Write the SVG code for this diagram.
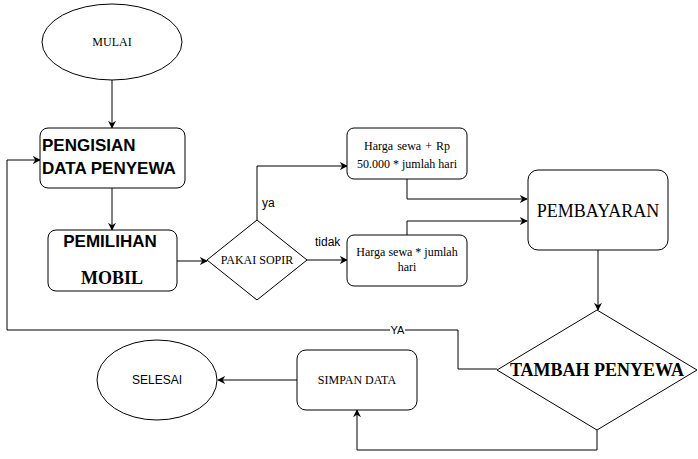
<svg xmlns="http://www.w3.org/2000/svg" width="698" height="459" viewBox="0 0 698 459">
<defs>
<marker id="arr" viewBox="0 0 10 10" refX="9" refY="5" markerWidth="8" markerHeight="8" markerUnits="userSpaceOnUse" orient="auto">
<path d="M0,0 L10,5 L0,10 L3,5 Z" fill="#000"/>
</marker>
<style>
.shape{fill:#fff;stroke:#000;stroke-width:1}
.edge{fill:none;stroke:#000;stroke-width:1}
.serif{font-family:"Liberation Serif",serif;font-size:12px;fill:#000}
.sans{font-family:"Liberation Sans",Arial,sans-serif;font-size:12px;fill:#000}
.bsans{font-family:"Liberation Sans",Arial,sans-serif;font-size:17px;font-weight:bold;fill:#000}
.bserif{font-family:"Liberation Serif",serif;font-size:18px;font-weight:bold;fill:#000}
.big{font-size:18px}
.small{font-size:11px}
</style>
</defs>
<rect width="698" height="459" fill="#fff"/>
<g id="connectors">
<path class="edge" d="M112,80 V128" marker-end="url(#arr)"/>
<path class="edge" d="M112,188 V230" marker-end="url(#arr)"/>
<path class="edge" d="M177,261 H207" marker-end="url(#arr)"/>
<path class="edge" d="M257,220 V166 H347" marker-end="url(#arr)"/>
<path class="edge" d="M307,260 H347" marker-end="url(#arr)"/>
<path class="edge" d="M407,179 V199 H527" marker-end="url(#arr)"/>
<path class="edge" d="M407,235 V221 H527" marker-end="url(#arr)"/>
<path class="edge" d="M598,250 V310" marker-end="url(#arr)"/>
<path class="edge" d="M497,369 H458 V330 H7 V160 H40" marker-end="url(#arr)"/>
<path class="edge" d="M597,430 V450 H357 V410" marker-end="url(#arr)"/>
<path class="edge" d="M297,380 H218" marker-end="url(#arr)"/>
<rect x="390" y="324" width="15" height="12" fill="#fff"/>
<text class="sans small" x="397.5" y="334" text-anchor="middle">YA</text>
<text class="sans" x="262" y="207">ya</text>
<text class="sans" x="315" y="246">tidak</text>
</g>
<g id="mulai">
<ellipse class="shape" cx="112" cy="42" rx="70" ry="38"/>
<text class="serif" x="112" y="46" text-anchor="middle">MULAI</text>
</g>
<g id="pengisian">
<rect class="shape" x="40" y="128" width="145" height="60" rx="8"/>
<text class="bsans" x="42" y="151">PENGISIAN</text>
<text class="bsans" x="42" y="174">DATA PENYEWA</text>
</g>
<g id="pemilihan">
<rect class="shape" x="48" y="230" width="129" height="61" rx="8"/>
<text class="bsans" x="110" y="247" text-anchor="middle">PEMILIHAN</text>
<text class="bserif" x="112" y="284" text-anchor="middle">MOBIL</text>
</g>
<g id="pakai-sopir">
<polygon class="shape" points="257,220 307,260 257,300 207,260"/>
<text class="serif" x="257" y="264" text-anchor="middle">PAKAI SOPIR</text>
</g>
<g id="harga-sopir">
<rect class="shape" x="347" y="128" width="120" height="51" rx="7"/>
<text class="serif" x="407" y="150" text-anchor="middle" word-spacing="1">Harga sewa + Rp</text>
<text class="serif" x="407" y="168" text-anchor="middle">50.000 * jumlah hari</text>
</g>
<g id="harga-tanpa-sopir">
<rect class="shape" x="347" y="235" width="120" height="51" rx="7"/>
<text class="serif" x="407" y="256" text-anchor="middle">Harga sewa * jumlah</text>
<text class="serif" x="407" y="271" text-anchor="middle">hari</text>
</g>
<g id="pembayaran">
<rect class="shape" x="528" y="170" width="140" height="80" rx="10"/>
<text class="serif big" x="598" y="217" text-anchor="middle">PEMBAYARAN</text>
</g>
<g id="tambah-penyewa">
<polygon class="shape" points="597,310 697,370 597,430 497,370"/>
<text class="bserif" x="597" y="376" text-anchor="middle">TAMBAH PENYEWA</text>
</g>
<g id="simpan-data">
<rect class="shape" x="297" y="350" width="120" height="60" rx="9"/>
<text class="serif" x="357" y="384" text-anchor="middle">SIMPAN DATA</text>
</g>
<g id="selesai">
<ellipse class="shape" cx="157" cy="380" rx="60" ry="40"/>
<text class="sans" x="157" y="384" text-anchor="middle">SELESAI</text>
</g>
</svg>
